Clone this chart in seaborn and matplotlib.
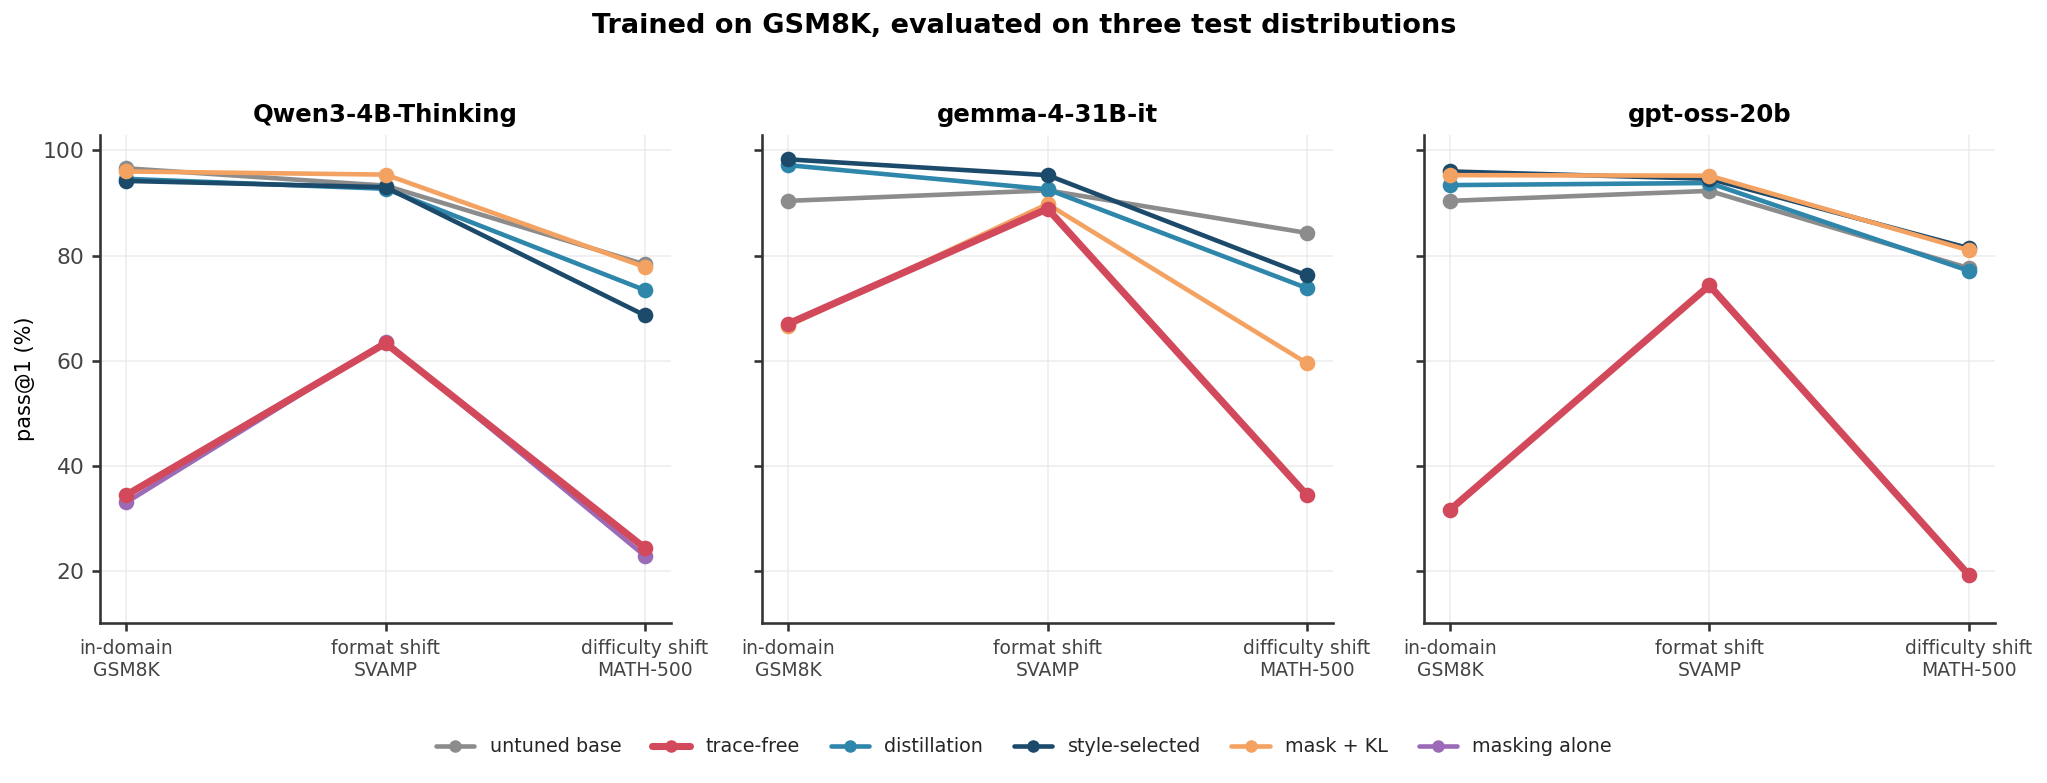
import numpy as np
import pandas as pd
import matplotlib
matplotlib.use("Agg")
import matplotlib.pyplot as plt
import seaborn as sns
from matplotlib.lines import Line2D

# datos
modelos = ["Qwen3-4B-Thinking", "gemma-4-31B-it", "gpt-oss-20b"]
distribuciones = ["in-domain\nGSM8K", "format shift\nSVAMP", "difficulty shift\nMATH-500"]
metodos = ["untuned base", "trace-free", "distillation", "style-selected", "mask + KL", "masking alone"]

untuned_base = [[96.6, 93.3, 78.3], [90.4, 92.4, 84.3], [90.4, 92.3, 77.6]]
trace_free = [[34.4, 63.3, 24.3], [67.0, 88.9, 34.4], [31.6, 74.3, 19.2]]
distillation = [[94.6, 92.7, 73.4], [97.2, 92.6, 73.8], [93.4, 93.8, 77.1]]
style_selected = [[94.2, 93.0, 68.6], [98.3, 95.3, 76.2], [96.0, 94.6, 81.4]]
mask_kl = [[96.0, 95.4, 77.8], [66.6, 89.8, 59.5], [95.3, 95.2, 81.0]]
masking_alone = [[33.0, 63.6, 22.8], None, None]

valores = {
    "untuned base": untuned_base,
    "trace-free": trace_free,
    "distillation": distillation,
    "style-selected": style_selected,
    "mask + KL": mask_kl,
    "masking alone": masking_alone,
}

colores = {
    "untuned base": "#8c8c8c",
    "trace-free": "#d1495b",
    "distillation": "#2e86ab",
    "style-selected": "#1b4a6b",
    "mask + KL": "#f4a261",
    "masking alone": "#9b6bb8",
}
grosor = {m: 2.2 for m in metodos}
grosor["trace-free"] = 3.4
orden_z = {"untuned base": 2, "distillation": 3, "style-selected": 4,
           "mask + KL": 5, "masking alone": 6, "trace-free": 7}

sns.set_theme(style="ticks")
plt.rcParams["font.family"] = ["DejaVu Sans"]

fig, axes = plt.subplots(1, 3, figsize=(13.653, 5.22), dpi=150, sharey=True)
fig.subplots_adjust(left=0.049, right=0.974, top=0.828, bottom=0.204, wspace=0.16)

for i, (ax, modelo) in enumerate(zip(axes, modelos)):
    for m in metodos:
        vals = valores[m][i]
        if vals is None:
            continue
        df = pd.DataFrame({"dist": distribuciones, "pass": vals})
        sns.lineplot(data=df, x="dist", y="pass", ax=ax, color=colores[m],
                     linewidth=grosor[m], marker="o", markersize=7.5,
                     markeredgewidth=0, zorder=orden_z[m], sort=False)
    ax.set_title(modelo, fontsize=11.7, fontweight="bold", pad=6, color="black")
    ax.set_xlabel("")
    ax.set_ylabel("")
    ax.set_xlim(-0.1, 2.1)
    ax.set_ylim(10, 103)
    ax.set_yticks([20, 40, 60, 80, 100])
    ax.grid(True, color="#e6e6e6", linewidth=0.8, alpha=0.7)
    ax.set_axisbelow(True)
    ax.tick_params(axis="x", labelsize=9, colors="#333333", length=4)
    ax.tick_params(axis="y", labelsize=10.5, colors="#333333", length=4)
    for lab in ax.get_xticklabels() + ax.get_yticklabels():
        lab.set_color("#444444")
    for s in ["left", "bottom"]:
        ax.spines[s].set_color("#333333")
    sns.despine(ax=ax)

axes[0].set_ylabel("pass@1 (%)", fontsize=10, color="black")

fig.suptitle("Trained on GSM8K, evaluated on three test distributions",
             fontsize=13, fontweight="bold", y=0.983, color="black")

handles = [Line2D([0], [0], color=colores[m], linewidth=grosor[m], marker="o",
                  markersize=6, markeredgewidth=0) for m in metodos]
fig.legend(handles, metodos, loc="center", bbox_to_anchor=(0.5, 0.046), ncol=6,
           frameon=False, fontsize=9.2, handlelength=2.0, columnspacing=1.6)

plt.savefig("out.png", dpi=150)
plt.close()
